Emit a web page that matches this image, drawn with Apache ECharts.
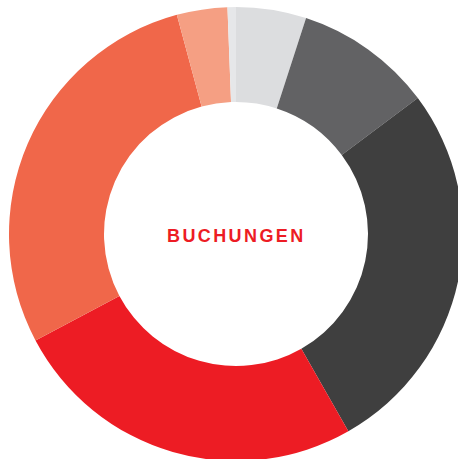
<!DOCTYPE html>
<html>
<head>
<meta charset="utf-8">
<script src="https://cdn.jsdelivr.net/npm/echarts@6/dist/echarts.min.js"></script>
<style>
  html, body { margin: 0; padding: 0; background: #fff; }
  #chart { width: 458px; height: 459px; }
  /* Buchstabenabstand für den Mitteltext */
  #chart svg text { letter-spacing: 2.4px; }
</style>
</head>
<body>
<div id="chart"></div>
<script>
// Daten (Anteile in %, im Uhrzeigersinn ab 12 Uhr)
var segmente = ['Segment 1', 'Segment 2', 'Segment 3', 'Segment 4', 'Segment 5', 'Segment 6', 'Segment 7'];
var anteile = [5.0, 9.8, 27.0, 25.5, 28.6, 3.6, 0.6];
var farben = ['#dcdddf', '#626264', '#3f3f3f', '#ed1c24', '#f0674a', '#f59f83', '#e6e7e9'];
var mitteText = 'BUCHUNGEN';

var chart = echarts.init(document.getElementById('chart'), null, { renderer: 'svg' });

var option = {
  animation: false,
  color: farben,
  tooltip: { show: false },
  title: {
    text: mitteText,
    left: 162,
    top: 222,
    textStyle: {
      color: '#ed1c24',
      fontSize: 18,
      fontWeight: 'bold',
      fontFamily: '"Liberation Sans", Arial, sans-serif'
    }
  },
  series: [{
    type: 'pie',
    center: [236, 234],
    radius: [132, 227],
    startAngle: 90,
    clockwise: true,
    label: { show: false },
    labelLine: { show: false },
    emphasis: { disabled: true },
    itemStyle: { borderWidth: 0 },
    data: segmente.map(function (name, i) {
      return { name: name, value: anteile[i] };
    })
  }]
};

chart.setOption(option);
</script>
</body>
</html>
